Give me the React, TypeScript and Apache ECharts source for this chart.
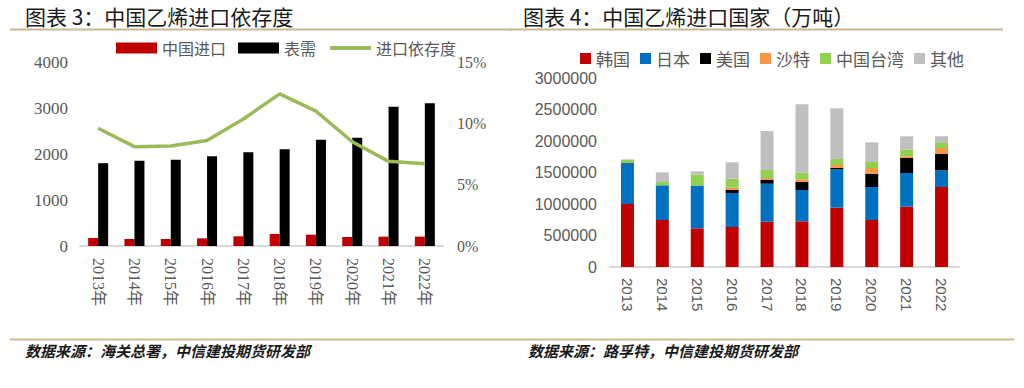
import React, { useEffect, useRef } from "react";
import * as echarts from "echarts";

const leftYears = ["2013年", "2014年", "2015年", "2016年", "2017年", "2018年", "2019年", "2020年", "2021年", "2022年"];
const chinaImport = [174, 152, 152, 167, 210, 261, 246, 196, 203, 203];
const apparentDemand = [1800, 1855, 1877, 1949, 2036, 2101, 2312, 2355, 3029, 3101];
const dependency = [0.096, 0.081, 0.0815, 0.086, 0.1035, 0.124, 0.110, 0.085, 0.069, 0.067];

const rightYears = ["2013", "2014", "2015", "2016", "2017", "2018", "2019", "2020", "2021", "2022"];
const korea = [1000000, 746000, 614000, 635000, 719000, 725000, 942000, 746000, 957000, 1270000];
const japan = [645000, 551000, 672000, 540000, 603000, 497000, 608000, 524000, 535000, 265000];
const usa = [11000, 0, 5000, 52000, 64000, 127000, 21000, 211000, 238000, 259000];
const saudi = [0, 0, 0, 32000, 27000, 43000, 48000, 90000, 27000, 95000];
const taiwan = [44000, 52000, 174000, 143000, 127000, 105000, 95000, 96000, 105000, 79000];
const others = [10000, 154000, 54000, 260000, 619000, 1085000, 805000, 312000, 213000, 107000];

const SERIF = "'Liberation Serif', 'Noto Sans CJK SC', serif";
const SANS = "'Liberation Sans', 'Noto Sans CJK SC', sans-serif";
const CJK = "'Noto Sans CJK SC', sans-serif";

export default function App() {
  const ref = useRef<HTMLDivElement>(null);
  useEffect(() => {
    document.body.style.margin = "0";
    if (!ref.current) return;
    const chart = echarts.init(ref.current, null, { renderer: "svg" });
    const gray = "#595959";
    const axisLine = { show: true, lineStyle: { color: "#d9d9d9", width: 2 } };
    const plain = (v: number) => String(v);
    chart.setOption({
      animation: false,
      backgroundColor: "#ffffff",
      legend: [
        {
          left: 111,
          top: 35,
          itemWidth: 41,
          itemHeight: 11,
          itemGap: 12,
          textStyle: { fontFamily: CJK, fontSize: 16, color: gray },
          data: [
            { name: "中国进口", icon: "rect" },
            { name: "表需", icon: "rect" },
            { name: "进口依存度", itemStyle: { opacity: 0 }, lineStyle: { width: 4, color: "#9BBB59" } },
          ],
        },
        {
          left: 575,
          top: 45,
          itemWidth: 11,
          itemHeight: 11,
          itemGap: 10,
          textStyle: { fontFamily: CJK, fontSize: 17, color: gray },
          data: ["韩国", "日本", "美国", "沙特", "中国台湾", "其他"].map((n) => ({ name: n, icon: "rect" })),
        },
      ],
      grid: [
        { left: 80, top: 62, width: 363, height: 184 },
        { left: 610, top: 78, width: 349, height: 189 },
      ],
      xAxis: [
        {
          type: "category",
          gridIndex: 0,
          data: leftYears,
          axisLine,
          axisTick: { show: false },
          axisLabel: { rotate: -90, margin: 12, fontFamily: SERIF, fontSize: 16, color: gray },
        },
        {
          type: "category",
          gridIndex: 1,
          data: rightYears,
          axisLine,
          axisTick: { show: false },
          axisLabel: { rotate: -90, margin: 11, fontFamily: SANS, fontSize: 15, color: gray },
        },
      ],
      yAxis: [
        {
          type: "value",
          gridIndex: 0,
          min: 0,
          max: 4000,
          interval: 1000,
          splitLine: { show: false },
          axisLine: { show: false },
          axisLabel: { margin: 12, fontFamily: SERIF, fontSize: 17, color: gray, formatter: plain },
        },
        {
          type: "value",
          gridIndex: 0,
          position: "right",
          min: 0,
          max: 0.15,
          interval: 0.05,
          splitLine: { show: false },
          axisLine: { show: false },
          axisLabel: {
            margin: 14,
            fontFamily: SERIF,
            fontSize: 16,
            color: gray,
            formatter: (v: number) => Math.round(v * 100) + "%",
          },
        },
        {
          type: "value",
          gridIndex: 1,
          min: 0,
          max: 3000000,
          interval: 500000,
          splitLine: { show: false },
          axisLine: { show: false },
          axisLabel: { margin: 13, fontFamily: SANS, fontSize: 16, color: gray, formatter: plain },
        },
      ],
      series: [
        {
          name: "中国进口",
          type: "bar",
          xAxisIndex: 0,
          yAxisIndex: 0,
          data: chinaImport,
          barWidth: 10,
          barGap: "0%",
          itemStyle: { color: "#C00000" },
        },
        {
          name: "表需",
          type: "bar",
          xAxisIndex: 0,
          yAxisIndex: 0,
          data: apparentDemand,
          barWidth: 10,
          barGap: "0%",
          itemStyle: { color: "#000000" },
        },
        {
          name: "进口依存度",
          type: "line",
          xAxisIndex: 0,
          yAxisIndex: 1,
          data: dependency,
          symbol: "none",
          showSymbol: false,
          itemStyle: { color: "#9BBB59" },
          lineStyle: { color: "#9BBB59", width: 3.5 },
        },
        ...[
          ["韩国", korea, "#C00000"],
          ["日本", japan, "#0070C0"],
          ["美国", usa, "#000000"],
          ["沙特", saudi, "#F79646"],
          ["中国台湾", taiwan, "#92D050"],
          ["其他", others, "#BFBFBF"],
        ].map(([name, data, color]) => ({
          name,
          type: "bar",
          stack: "imp",
          xAxisIndex: 1,
          yAxisIndex: 2,
          data,
          barWidth: 13,
          itemStyle: { color },
        })),
      ],
      graphic: [
        {
          type: "text",
          left: 25,
          top: 5,
          style: { text: "图表 3：中国乙烯进口依存度", font: `21px ${CJK}`, fill: "#1a1a1a" },
        },
        {
          type: "text",
          left: 523,
          top: 5,
          style: { text: "图表 4：中国乙烯进口国家（万吨）", font: `21px ${CJK}`, fill: "#1a1a1a" },
        },
        { type: "line", shape: { x1: 10, y1: 29.5, x2: 512, y2: 29.5 }, style: { stroke: "#c9b893", lineWidth: 2 } },
        { type: "line", shape: { x1: 510, y1: 29.5, x2: 1003, y2: 29.5 }, style: { stroke: "#c9b893", lineWidth: 2 } },
        { type: "line", shape: { x1: 10, y1: 339.5, x2: 1014, y2: 339.5 }, style: { stroke: "#c9b893", lineWidth: 2 } },
        {
          type: "text",
          left: 25,
          top: 343,
          style: { text: "数据来源：海关总署，中信建投期货研发部", font: `italic bold 15px ${CJK}`, fill: "#1a1a1a" },
        },
        {
          type: "text",
          left: 528,
          top: 343,
          style: { text: "数据来源：路孚特，中信建投期货研发部", font: `italic bold 15px ${CJK}`, fill: "#1a1a1a" },
        },
      ],
    });
    return () => chart.dispose();
  }, []);
  return <div ref={ref} style={{ width: 1024, height: 388 }} />;
}
